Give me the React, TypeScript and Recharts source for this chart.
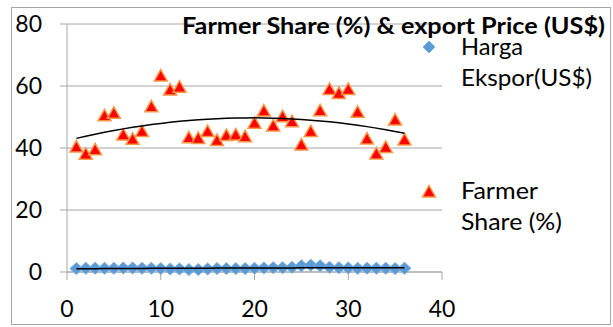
import React from 'react';
import { ComposedChart, Scatter, XAxis, YAxis, CartesianGrid } from 'recharts';

// observation index (x axis)
const periods = [1, 2, 3, 4, 5, 6, 7, 8, 9, 10, 11, 12, 13, 14, 15, 16, 17, 18, 19, 20, 21, 22, 23, 24, 25, 26, 27, 28, 29, 30, 31, 32, 33, 34, 35, 36];

const farmerShare = [40.3, 38.0, 39.4, 50.4, 51.2, 44.2, 42.8, 45.3, 53.3, 63.2, 58.7, 59.6, 43.3, 43.1, 45.3, 42.4, 44.0, 44.2, 43.6, 48.0, 51.9, 47.1, 50.1, 48.5, 41.0, 45.3, 52.0, 58.9, 57.6, 58.9, 51.5, 42.9, 38.1, 40.2, 49.0, 42.6];

const hargaEkspor = [1.1, 1.2, 1.2, 1.2, 1.2, 1.3, 1.3, 1.2, 1.2, 1.1, 1.0, 1.0, 0.8, 0.8, 1.0, 1.1, 1.1, 1.1, 1.1, 1.2, 1.3, 1.4, 1.4, 1.5, 2.0, 2.2, 2.0, 1.5, 1.4, 1.3, 1.2, 1.2, 1.2, 1.2, 1.1, 1.2];

const xTicks = [0, 10, 20, 30, 40];
const yTicks = [0, 20, 40, 60, 80];

const TITLE = 'Farmer Share (%) & export Price (US$)';
const GRID = '#a6a6a6';
const FONT = 'Lato, "Open Sans", sans-serif';

// least squares 2nd order polynomial, like the excel trendline
const polyFit2 = (xs: number[], ys: number[]) => {
    const S = [0, 0, 0, 0, 0];
    const T = [0, 0, 0];
    xs.forEach((x, i) => {
        for (let k = 0; k < 5; k++) S[k] += x ** k;
        for (let k = 0; k < 3; k++) T[k] += ys[i] * x ** k;
    });
    const m = [
        [S[0], S[1], S[2], T[0]],
        [S[1], S[2], S[3], T[1]],
        [S[2], S[3], S[4], T[2]],
    ];
    for (let i = 0; i < 3; i++) {
        for (let j = i + 1; j < 3; j++) {
            const f = m[j][i] / m[i][i];
            for (let k = i; k < 4; k++) m[j][k] -= f * m[i][k];
        }
    }
    const c = [0, 0, 0];
    for (let i = 2; i >= 0; i--) {
        let s = m[i][3];
        for (let k = i + 1; k < 3; k++) s -= m[i][k] * c[k];
        c[i] = s / m[i][i];
    }
    return (x: number) => c[0] + c[1] * x + c[2] * x * x;
};

const shareFit = polyFit2(periods, farmerShare);
const hargaFit = polyFit2(periods, hargaEkspor);

const rows = periods.map((x, i) => ({
    x,
    share: farmerShare[i],
    harga: hargaEkspor[i],
    shareFit: shareFit(x),
    hargaFit: hargaFit(x),
}));

const Triangle = ({ cx, cy }: any) => (
    <path
        d={`M${cx},${cy - 6.5} L${cx + 6.5},${cy + 5} L${cx - 6.5},${cy + 5} Z`}
        fill="#ff0000"
        stroke="#f79646"
        strokeWidth={1.5}
    />
);

const Diamond = ({ cx, cy }: any) => (
    <path
        d={`M${cx},${cy - 6} L${cx + 6.5},${cy} L${cx},${cy + 6} L${cx - 6.5},${cy} Z`}
        fill="#5b9bd5"
        stroke="#7aaee0"
        strokeWidth={1}
    />
);

// trendlines: only the connecting line, no markers
const NoDot = () => <g />;

const tickStyle = { fontSize: 23, fill: '#000', fontFamily: FONT };

export default function App() {
    return (
        <div style={{ position: 'absolute', left: 0, top: 0, width: 613, height: 327, background: '#fff' }}>
            <ComposedChart
                width={613}
                height={327}
                data={rows}
                margin={{ top: 24, right: 171, bottom: 15, left: 0 }}
            >
                <CartesianGrid vertical={false} stroke={GRID} />
                <XAxis
                    type="number"
                    dataKey="x"
                    domain={[0, 40]}
                    ticks={xTicks}
                    height={40}
                    tickSize={8}
                    tickMargin={21}
                    stroke={GRID}
                    tick={tickStyle}
                    interval={0}
                />
                <YAxis
                    type="number"
                    domain={[0, 80]}
                    ticks={yTicks}
                    width={67}
                    tickSize={7}
                    tickMargin={18}
                    stroke={GRID}
                    tick={tickStyle}
                    interval={0}
                />
                <Scatter name="Harga Ekspor(US$)" dataKey="harga" shape={<Diamond />} isAnimationActive={false} />
                <Scatter name="Farmer Share (%)" dataKey="share" shape={<Triangle />} isAnimationActive={false} />
                <Scatter
                    dataKey="hargaFit"
                    line={{ stroke: '#000', strokeWidth: 1.5 }}
                    shape={<NoDot />}
                    isAnimationActive={false}
                />
                <Scatter
                    dataKey="shareFit"
                    line={{ stroke: '#000', strokeWidth: 1.5 }}
                    shape={<NoDot />}
                    isAnimationActive={false}
                />
            </ComposedChart>
            <svg width={613} height={327} style={{ position: 'absolute', left: 0, top: 0, pointerEvents: 'none' }}>
                <rect x={11.5} y={7.5} width={599} height={317} fill="none" stroke={GRID} />
                <text x={182} y={34} fontFamily={FONT} fontWeight="bold" fontSize={23} textLength={423} lengthAdjust="spacingAndGlyphs">
                    {TITLE}
                </text>
                <path d="M429,41 L435,47 L429,53 L423,47 Z" fill="#5b9bd5" stroke="#7aaee0" />
                <text x={461} y={54.5} fontFamily={FONT} fontSize={23} textLength={62} lengthAdjust="spacingAndGlyphs">Harga</text>
                <text x={461} y={86} fontFamily={FONT} fontSize={23} textLength={131} lengthAdjust="spacingAndGlyphs">Ekspor(US$)</text>
                <path d="M429,185.5 L435.5,197 L422.5,197 Z" fill="#ff0000" stroke="#f79646" strokeWidth={1.5} />
                <text x={461} y={199} fontFamily={FONT} fontSize={23} textLength={77} lengthAdjust="spacingAndGlyphs">Farmer</text>
                <text x={461} y={229.5} fontFamily={FONT} fontSize={23} textLength={101} lengthAdjust="spacingAndGlyphs">Share (%)</text>
            </svg>
        </div>
    );
}
